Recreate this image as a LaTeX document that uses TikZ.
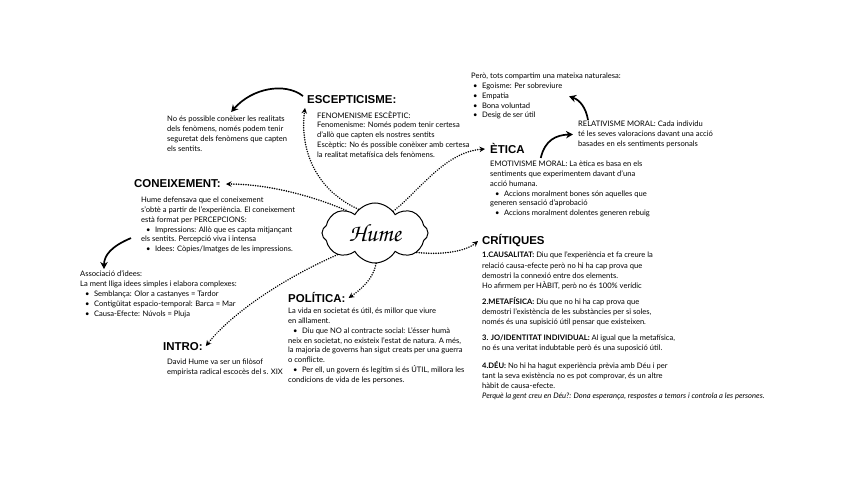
\documentclass[tikz,border=0pt]{standalone}
\usepackage[T1,TU]{fontenc}
\usepackage{fontspec}
\setmainfont{Lato}
\newfontfamily\titlef{Liberation Sans}
\usetikzlibrary{arrows.meta,shapes.symbols}
\newcommand{\bul}{\hspace*{5bp}\textbullet\hspace{4.5bp}}
\newcommand{\humefont}{\fontencoding{T1}\fontfamily{pzc}\fontseries{mb}\fontshape{it}\selectfont}
\tikzset{
  body/.style={anchor=north west, inner sep=0pt, align=left, font=\fontsize{7.6}{9.8}\selectfont},
  ttl/.style={anchor=base west, inner sep=0pt, font=\titlef\bfseries\fontsize{11.5}{12}\selectfont},
  dotcon/.style={line width=1.7bp, dash pattern=on 0.01bp off 2.4bp, line cap=round, -{Stealth[length=5.5bp,width=5.5bp]}},
  solidarr/.style={line width=1.7bp, -{Stealth[length=7bp,width=7.5bp]}},
}
\begin{document}
\begin{tikzpicture}[x=1bp,y=-1bp]
\useasboundingbox (0,0) rectangle (848,477);
\fill[white] (0,0) rectangle (848,477);

% central cloud
\node[cloud, draw, line width=1bp, cloud puffs=8, cloud puff arc=120, aspect=1.8,
      minimum width=106bp, minimum height=60bp, inner sep=0pt] (hume) at (375,233)
      {\humefont\fontsize{25}{26}\selectfont Hume};

% titles
\node[ttl] (esc) at (307,104) {ESCEPTICISME:};
\node[ttl] (con) at (134,188) {CONEIXEMENT:};
\node[ttl] (eti) at (490,154) {ÈTICA};
\node[ttl] (cri) at (482,245) {CRÍTIQUES};
\node[ttl] (pol) at (288,303) {POLÍTICA:};
\node[ttl] (intro) at (163,350) {INTRO:};

% text blocks
\node[body] (nobes) at (167,116) {No és possible conèixer les realitats\\
dels fenòmens, només podem tenir\\
seguretat dels fenòmens que capten\\
els sentits.};

\node[body] (esctxt) at (317,111) {FENOMENISME ESCÈPTIC:\\
Fenomenisme: Només podem tenir certesa\\
d’allò que capten els nostres sentits\\
Escèptic: No és possible conèixer amb certesa\\
la realitat metafísica dels fenòmens.};

\node[body] (pero) at (471,73) {Però, tots compartim una mateixa naturalesa:\\
\hspace*{2bp}\textbullet\hspace{4.5bp}Egoisme: Per sobreviure\\
\hspace*{2bp}\textbullet\hspace{4.5bp}Empatia\\
\hspace*{2bp}\textbullet\hspace{4.5bp}Bona voluntad\\
\hspace*{2bp}\textbullet\hspace{4.5bp}Desig de ser útil};

\node[body] (rel) at (578,121) {RELATIVISME MORAL: Cada individu\\
té les seves valoracions davant una acció\\
basades en els sentiments personals};

\node[body] (etitxt) at (490,161) {EMOTIVISME MORAL: La ètica es basa en els\\
sentiments que experimentem davant d’una\\
acció humana.\\
\bul Accions moralment bones són aquelles que\\
generen sensació d’aprobació\\
\bul Accions moralment dolentes generen rebuig};

\node[body] (contxt) at (141,197) {Hume defensava que el coneixement\\
s’obtè a partir de l’experiència. El coneixement\\
està format per PERCEPCIONS:\\
\bul Impressions: Allò que es capta mitjançant\\
els sentits. Percepció viva i intensa\\
\bul Idees: Còpies/Imatges de les impressions.};

\node[body] (assoc) at (80,271) {Associació d’idees:\\
La ment lliga idees simples i elabora complexes:\\
\bul Semblança: Olor a castanyes = Tardor\\
\bul Contigüitat espacio-temporal: Barca = Mar\\
\bul Causa-Efecte: Núvols = Pluja};

\node[body] (poltxt) at (288,308) {La vida en societat és útil, és millor que viure\\
en aïllament.\\
\bul Diu que NO al contracte social: L’ésser humà\\
neix en societat, no existeix l’estat de natura. A més,\\
la majoria de governs han sigut creats per una guerra\\
o conflicte.\\
\bul Per ell, un govern és legítim si és ÚTIL, millora les\\
condicions de vida de les persones.};

\node[body] (introtxt) at (167,359) {David Hume va ser un filòsof\\
empirista radical escocès del s. XIX};

\node[body, font=\fontsize{7.6}{10.1}\selectfont] (crittxt) at (482,252) {\textbf{1.CAUSALITAT:} Diu que l’experiència et fa creure la\\
relació causa-efecte però no hi ha cap prova que\\
demostri la connexió entre dos elements.\\
Ho afirmem per HÀBIT, però no és 100\% verídic\\[6bp]
\textbf{2.METAFÍSICA:} Diu que no hi ha cap prova que\\
demostri l’existència de les substàncies per si soles,\\
només és una supisició útil pensar que existeixen.\\[6.5bp]
\textbf{3. JO/IDENTITAT INDIVIDUAL:} Al igual que la metafísica,\\
no és una veritat indubtable però és una suposició útil.\\[7.5bp]
\textbf{4.DÉU:} No hi ha hagut experiència prèvia amb Déu i per\\
tant la seva existència no es pot comprovar, és un altre\\
hàbit de causa-efecte.\\
\textit{Perquè la gent creu en Déu?: Dona esperança, respostes a temors i controla a les persones.}};

% dotted connectors from the cloud
\draw[dotcon] (hume.125) .. controls (312,188) and (300,145) .. ([xshift=-2bp,yshift=-4bp]esc.base west);
\draw[dotcon] (hume.142) .. controls (315,197) and (270,184) .. ([xshift=5bp]con.east);
\draw[dotcon] (hume.50) .. controls (420,190) and (445,152) .. ([xshift=-5bp]eti.west);
\draw[dotcon] (hume.-25) .. controls (440,255) and (465,252) .. ([xshift=-4bp]cri.west);
\draw[dotcon] (hume.-88) .. controls (373,280) and (360,290) .. ([xshift=3bp]pol.east);
\draw[dotcon] (hume.-150) .. controls (280,280) and (230,315) .. ([xshift=3bp]intro.east);

% solid arrows
\draw[solidarr] ([xshift=-4bp,yshift=4bp]esc.west) .. controls (285,82) and (252,88) .. ([xshift=4bp,yshift=4bp]nobes.north);
\draw[solidarr] ([xshift=-10bp,yshift=-13bp]contxt.west) .. controls (112,246) and (104,255) .. ([xshift=24bp,yshift=2bp]assoc.north west);
\draw[solidarr] ([xshift=10bp,yshift=1bp]rel.north west) .. controls (586,108) and (580,100) .. ([xshift=98bp,yshift=23bp]pero.south west);
\draw[solidarr] ([xshift=16bp,yshift=-9bp]eti.east) .. controls (545,140) and (556,135) .. ([xshift=-5bp]rel.west);
\end{tikzpicture}
\end{document}
